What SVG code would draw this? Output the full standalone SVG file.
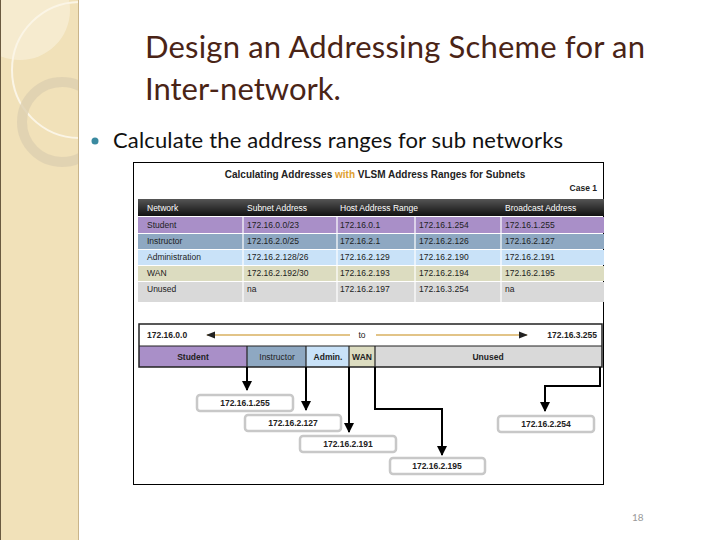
<svg xmlns="http://www.w3.org/2000/svg" width="720" height="540" viewBox="0 0 720 540">
<style>
.t{font-family:"Liberation Sans",Arial,sans-serif;font-size:8.5px;fill:#222}
.h{font-family:"Liberation Sans",Arial,sans-serif;font-size:8.5px;fill:#fff}
.b{font-family:"Liberation Sans",Arial,sans-serif;font-size:8.5px;font-weight:bold;fill:#222}
.box{fill:#fff;stroke:#c8c8c8;stroke-width:2.5}
.c{fill:none;stroke:#000;stroke-width:2}
</style>
<defs>
<marker id="a" viewBox="0 0 10 10" refX="9" refY="5" markerWidth="5" markerHeight="5" orient="auto"><path d="M0,0L10,5L0,10z" fill="#000"/></marker>
<marker id="g" viewBox="0 0 10 10" refX="9" refY="5" markerWidth="6" markerHeight="6" orient="auto"><path d="M0,1L10,5L0,9z" fill="#222"/></marker>
<linearGradient id="hd" x1="0" y1="0" x2="0" y2="1"><stop offset="0" stop-color="#555"/><stop offset="1" stop-color="#111"/></linearGradient>
<clipPath id="sb"><rect x="0" y="0" width="79" height="540"/></clipPath>
</defs>
<rect width="720" height="540" fill="#fff"/>
<g id="sidebar">
<rect x="0" y="0" width="79" height="540" fill="#f1e1b9"/>
<g clip-path="url(#sb)">
<circle cx="20" cy="10" r="50" fill="#f8efd8" opacity="0.7"/>
<circle cx="80" cy="70" r="68" fill="none" stroke="#fbf5e6" stroke-width="2"/>
<circle cx="62" cy="122" r="40" fill="none" stroke="#ddd0b0" stroke-width="10" opacity="0.8"/>
</g>
<line x1="78.5" y1="0" x2="78.5" y2="540" stroke="#c9b48a"/>
<line x1="0.5" y1="0" x2="0.5" y2="540" stroke="#6a5a40"/>
</g>
<g id="title" font-family="Lato,'Open Sans',sans-serif" fill="#4a2416">
<text x="145" y="58" font-size="31" textLength="500">Design an Addressing Scheme for an</text>
<text x="145" y="100" font-size="31">Inter-network.</text>
</g>
<g id="bullet">
<circle cx="95" cy="141" r="3.5" fill="#3a8aa0"/>
<text x="113" y="148" font-family="Lato,'Open Sans',sans-serif" font-size="22" fill="#111" textLength="450">Calculate the address ranges for sub networks</text>
</g>
<rect x="133.5" y="162.5" width="470" height="322" fill="#fff" stroke="#000"/>
<g id="table">
<text x="375" y="178" text-anchor="middle" font-family="'Liberation Sans',Arial,sans-serif" font-size="10" font-weight="bold" fill="#222">Calculating Addresses <tspan fill="#e0a030">with</tspan> VLSM Address Ranges for Subnets</text>
<text x="597" y="191" text-anchor="end" class="b">Case 1</text>
<rect x="138" y="199" width="466" height="17" fill="url(#hd)"/>
<rect x="138" y="217" width="466" height="16" fill="#a98fc8"/>
<rect x="138" y="234" width="466" height="15" fill="#8ea8c2"/>
<rect x="138" y="250" width="466" height="15" fill="#c9e2f8"/>
<rect x="138" y="266" width="466" height="15" fill="#dcdcc0"/>
<rect x="138" y="282" width="466" height="20" fill="#d9d9d9"/>
<g stroke="#fff" stroke-width="1.2"><line x1="243" y1="217" x2="243" y2="302"/><line x1="337" y1="217" x2="337" y2="302"/><line x1="415" y1="217" x2="415" y2="302"/><line x1="501" y1="217" x2="501" y2="302"/></g>
<text x="147" y="211" class="h">Network</text><text x="247" y="211" class="h">Subnet Address</text><text x="340" y="211" class="h">Host Address Range</text><text x="505" y="211" class="h">Broadcast Address</text>
<text x="147" y="228" class="t">Student</text><text x="247" y="228" class="t">172.16.0.0/23</text><text x="340" y="228" class="t">172.16.0.1</text><text x="419" y="228" class="t">172.16.1.254</text><text x="505" y="228" class="t">172.16.1.255</text>
<text x="147" y="244" class="t">Instructor</text><text x="247" y="244" class="t">172.16.2.0/25</text><text x="340" y="244" class="t">172.16.2.1</text><text x="419" y="244" class="t">172.16.2.126</text><text x="505" y="244" class="t">172.16.2.127</text>
<text x="147" y="260" class="t">Administration</text><text x="247" y="260" class="t">172.16.2.128/26</text><text x="340" y="260" class="t">172.16.2.129</text><text x="419" y="260" class="t">172.16.2.190</text><text x="505" y="260" class="t">172.16.2.191</text>
<text x="147" y="276" class="t">WAN</text><text x="247" y="276" class="t">172.16.2.192/30</text><text x="340" y="276" class="t">172.16.2.193</text><text x="419" y="276" class="t">172.16.2.194</text><text x="505" y="276" class="t">172.16.2.195</text>
<text x="147" y="292" class="t">Unused</text><text x="247" y="292" class="t">na</text><text x="340" y="292" class="t">172.16.2.197</text><text x="419" y="292" class="t">172.16.3.254</text><text x="505" y="292" class="t">na</text>
</g>
<g id="bar">
<rect x="139" y="324" width="463" height="43" fill="#fff"/>
<rect x="139" y="346" width="108" height="21" fill="#a98fc8"/>
<rect x="247" y="346" width="59" height="21" fill="#8ea8c2"/>
<rect x="306" y="346" width="43" height="21" fill="#c9e2f8"/>
<rect x="349" y="346" width="26" height="21" fill="#dcdcc0"/>
<rect x="375" y="346" width="227" height="21" fill="#d9d9d9"/>
<rect x="139" y="324" width="463" height="43" fill="none" stroke="#222" stroke-width="1.5"/>
<line x1="139" y1="346" x2="602" y2="346" stroke="#222" stroke-width="1.2"/>
<g stroke="#222" stroke-width="1.2"><line x1="247" y1="346" x2="247" y2="367"/><line x1="306" y1="346" x2="306" y2="367"/><line x1="349" y1="346" x2="349" y2="367"/><line x1="375" y1="346" x2="375" y2="367"/></g>
<text x="147" y="338" class="b">172.16.0.0</text>
<text x="362" y="338" text-anchor="middle" class="t">to</text>
<text x="597" y="338" text-anchor="end" class="b">172.16.3.255</text>
<g stroke="#d9b060" stroke-width="1.5"><line x1="350" y1="335" x2="207" y2="335" marker-end="url(#g)"/><line x1="376" y1="335" x2="527" y2="335" marker-end="url(#g)"/></g>
<text x="193" y="360" text-anchor="middle" class="b">Student</text>
<text x="277" y="360" text-anchor="middle" class="t">Instructor</text>
<text x="328" y="360" text-anchor="middle" class="b">Admin.</text>
<text x="362" y="360" text-anchor="middle" class="b">WAN</text>
<text x="488" y="360" text-anchor="middle" class="b">Unused</text>
</g>
<g id="connectors">
<path class="c" d="M247,367V390" marker-end="url(#a)"/>
<path class="c" d="M306,367V410" marker-end="url(#a)"/>
<path class="c" d="M349,367V432" marker-end="url(#a)"/>
<path class="c" d="M375,367V409H442V455" marker-end="url(#a)"/>
<path class="c" d="M600,367V386H545V411" marker-end="url(#a)"/>
</g>
<g id="n1"><rect class="box" x="197" y="395" width="96" height="16" rx="3"/><text x="245" y="406" text-anchor="middle" class="b">172.16.1.255</text></g>
<g id="n2"><rect class="box" x="245" y="415" width="96" height="16" rx="3"/><text x="293" y="426" text-anchor="middle" class="b">172.16.2.127</text></g>
<g id="n3"><rect class="box" x="300" y="436" width="96" height="16" rx="3"/><text x="348" y="447" text-anchor="middle" class="b">172.16.2.191</text></g>
<g id="n4"><rect class="box" x="390" y="458" width="95" height="16" rx="3"/><text x="437" y="469" text-anchor="middle" class="b">172.16.2.195</text></g>
<g id="n5"><rect class="box" x="498" y="416" width="96" height="16" rx="3"/><text x="546" y="427" text-anchor="middle" class="b">172.16.2.254</text></g>
<text x="632" y="521" font-family="Lato,sans-serif" font-size="10" fill="#999">18</text>
</svg>
